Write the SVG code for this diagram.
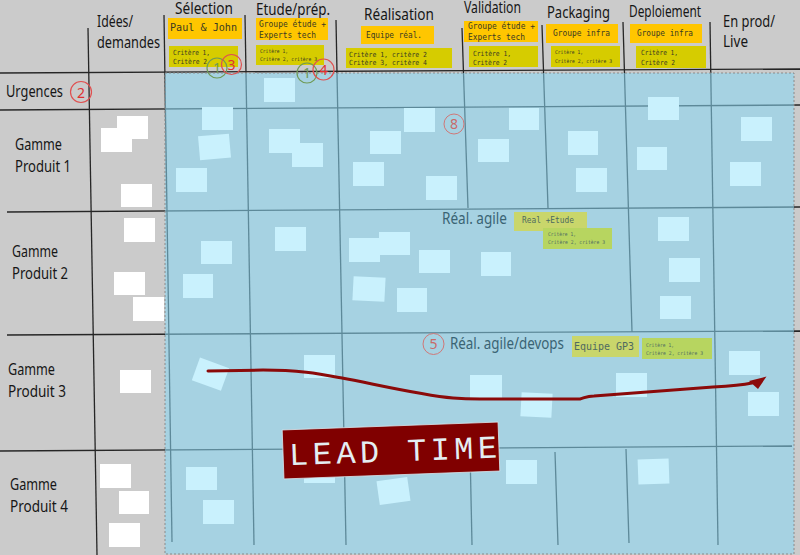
<svg xmlns="http://www.w3.org/2000/svg" width="800" height="555" viewBox="0 0 800 555">
<style>
.ln{stroke:#262626;stroke-width:1.3;fill:none}
.st{fill:#c9f1fd}
.wt{fill:#ffffff}
.hd{font-family:"Noto Sans","Open Sans",sans-serif;font-size:17px;fill:#161616}
.rw{font-family:"Noto Sans","Open Sans",sans-serif;font-size:15.5px;fill:#161616}
.ag{font-family:"Noto Sans","Open Sans",sans-serif;font-size:16.5px;fill:#3a6474}
.mo{font-family:"DejaVu Sans Mono","Liberation Mono",monospace;fill:#3a3a22}
.mg{font-family:"DejaVu Sans Mono","Liberation Mono",monospace;fill:#4f6a60}
.or{fill:#ffc600}
.cr{fill:#d6cc00}
.gy{fill:#c9d66b}
.gc{fill:#b7d560}
.rc{fill:none;stroke:#e05050;stroke-width:1.2}
.gcir{fill:none;stroke:#6f9a55;stroke-width:1.2}
.rn{font-family:"Noto Sans","Open Sans",sans-serif;font-size:14px;fill:#e03030;text-anchor:middle}
.gn{font-family:"Noto Sans","Open Sans",sans-serif;font-size:14px;fill:#6f9a55;text-anchor:middle}
</style>
<defs>
<marker id="ah" viewBox="0 0 10 10" refX="2" refY="5" markerWidth="5" markerHeight="5" orient="auto"><path d="M0,0 L10,5 L0,10 z" fill="#8b0a0a"/></marker>
</defs>
<rect width="800" height="555" fill="#cbcbcb"/>

<g id="grid">
<line class="ln" x1="0" y1="73" x2="800" y2="69"/>
<line class="ln" x1="0" y1="110" x2="800" y2="105"/>
<line class="ln" x1="7" y1="212" x2="800" y2="207"/>
<line class="ln" x1="7" y1="335" x2="800" y2="331"/>
<line class="ln" x1="0" y1="451" x2="792" y2="446"/>
<line class="ln" x1="88" y1="28" x2="97" y2="555"/>
<line class="ln" x1="164" y1="15" x2="172" y2="542"/>
<line class="ln" x1="245" y1="15" x2="254" y2="545"/>
<line class="ln" x1="336" y1="20" x2="346" y2="545"/>
<line class="ln" x1="462" y1="28" x2="468" y2="208"/>
<line class="ln" x1="542" y1="25" x2="548" y2="208"/>
<line class="ln" x1="623" y1="22" x2="632" y2="332"/>
<line class="ln" x1="710" y1="22" x2="718" y2="545"/>
<line class="ln" x1="470" y1="449" x2="472" y2="545"/>
<line class="ln" x1="555" y1="452" x2="558" y2="545"/>
<line class="ln" x1="626" y1="449" x2="629" y2="543"/>
</g>

<g id="board">
<rect x="165" y="73" width="629" height="481" fill="#8ad8f4" fill-opacity="0.56" stroke="#8a8a8a" stroke-width="1" stroke-dasharray="2,2"/>
</g>

<g id="idees-stickies">
<rect class="wt" x="117" y="116" width="31" height="23"/>
<rect class="wt" x="101" y="128" width="31" height="24"/>
<rect class="wt" x="121" y="184" width="31" height="23"/>
<rect class="wt" x="124" y="218" width="31" height="24"/>
<rect class="wt" x="114" y="272" width="31" height="23"/>
<rect class="wt" x="133" y="297" width="31" height="24"/>
<rect class="wt" x="120" y="370" width="31" height="23"/>
<rect class="wt" x="100" y="464" width="31" height="24"/>
<rect class="wt" x="119" y="491" width="30" height="23"/>
<rect class="wt" x="109" y="523" width="31" height="24"/>
</g>

<g id="board-stickies">
<rect class="st" x="264" y="78" width="31" height="24"/>
<rect class="st" x="648" y="97" width="31" height="23"/>
<rect class="st" x="202" y="107" width="31" height="23"/>
<rect class="st" x="199" y="135" width="31" height="24" transform="rotate(-5 214 147)"/>
<rect class="st" x="176" y="168" width="31" height="24"/>
<rect class="st" x="269" y="129" width="31" height="24"/>
<rect class="st" x="292" y="143" width="31" height="24"/>
<rect class="st" x="404" y="108" width="31" height="24"/>
<rect class="st" x="370" y="131" width="31" height="23"/>
<rect class="st" x="353" y="162" width="31" height="24"/>
<rect class="st" x="426" y="176" width="31" height="24"/>
<rect class="st" x="509" y="108" width="30" height="22"/>
<rect class="st" x="478" y="139" width="31" height="23"/>
<rect class="st" x="568" y="131" width="30" height="24"/>
<rect class="st" x="576" y="168" width="31" height="24"/>
<rect class="st" x="637" y="147" width="30" height="23"/>
<rect class="st" x="741" y="117" width="31" height="24"/>
<rect class="st" x="730" y="162" width="31" height="24"/>

<rect class="st" x="201" y="241" width="31" height="23"/>
<rect class="st" x="183" y="274" width="30" height="24"/>
<rect class="st" x="275" y="227" width="31" height="24"/>
<rect class="st" x="349" y="238" width="31" height="24"/>
<rect class="st" x="379" y="232" width="31" height="23"/>
<rect class="st" x="419" y="250" width="31" height="23"/>
<rect class="st" x="353" y="277" width="32" height="24" transform="rotate(3 369 289)"/>
<rect class="st" x="397" y="288" width="30" height="24"/>
<rect class="st" x="481" y="252" width="30" height="24"/>
<rect class="st" x="658" y="217" width="31" height="24"/>
<rect class="st" x="669" y="258" width="31" height="24"/>
<rect class="st" x="660" y="296" width="31" height="23"/>

<rect class="st" x="195" y="362" width="31" height="24" transform="rotate(20 210 374)"/>
<rect class="st" x="304" y="355" width="31" height="23"/>
<rect class="st" x="470" y="375" width="32" height="23"/>
<rect class="st" x="521" y="393" width="31" height="24" transform="rotate(3 536 405)"/>
<rect class="st" x="616" y="373" width="31" height="24"/>
<rect class="st" x="729" y="351" width="31" height="24"/>
<rect class="st" x="748" y="392" width="31" height="24"/>

<rect class="st" x="186" y="467" width="31" height="23"/>
<rect class="st" x="203" y="500" width="31" height="24"/>
<rect class="st" x="304" y="460" width="31" height="23"/>
<rect class="st" x="378" y="479" width="31" height="24" transform="rotate(-8 394 491)"/>
<rect class="st" x="506" y="460" width="31" height="24"/>
<rect class="st" x="638" y="459" width="31" height="25" transform="rotate(-2 653 471)"/>
</g>

<g id="column-headers">
<text class="hd" x="97" y="27" textLength="36" lengthAdjust="spacingAndGlyphs">Idées/</text>
<text class="hd" x="97" y="47.5" textLength="63" lengthAdjust="spacingAndGlyphs">demandes</text>
<text class="hd" x="175" y="13.5" textLength="58" lengthAdjust="spacingAndGlyphs">Sélection</text>
<text class="hd" x="256" y="15" textLength="74" lengthAdjust="spacingAndGlyphs">Etude/prép.</text>
<text class="hd" x="364" y="20" textLength="70" lengthAdjust="spacingAndGlyphs">Réalisation</text>
<text class="hd" x="464" y="13" textLength="57" lengthAdjust="spacingAndGlyphs">Validation</text>
<text class="hd" x="547" y="17.5" textLength="63" lengthAdjust="spacingAndGlyphs">Packaging</text>
<text class="hd" x="629" y="17" textLength="72" lengthAdjust="spacingAndGlyphs">Deploiement</text>
<text class="hd" x="723" y="27" textLength="52" lengthAdjust="spacingAndGlyphs">En prod/</text>
<text class="hd" x="723" y="46.5" textLength="25" lengthAdjust="spacingAndGlyphs">Live</text>
</g>

<g id="row-headers">
<text class="rw" x="6" y="97" textLength="57" lengthAdjust="spacingAndGlyphs">Urgences</text>
<text class="rw" x="15" y="150" textLength="47" lengthAdjust="spacingAndGlyphs">Gamme</text>
<text class="rw" x="15" y="171.5" textLength="56" lengthAdjust="spacingAndGlyphs">Produit 1</text>
<text class="rw" x="12" y="257" textLength="46" lengthAdjust="spacingAndGlyphs">Gamme</text>
<text class="rw" x="12" y="278.5" textLength="56" lengthAdjust="spacingAndGlyphs">Produit 2</text>
<text class="rw" x="8" y="375" textLength="47" lengthAdjust="spacingAndGlyphs">Gamme</text>
<text class="rw" x="8" y="397" textLength="58" lengthAdjust="spacingAndGlyphs">Produit 3</text>
<text class="rw" x="10" y="490" textLength="47" lengthAdjust="spacingAndGlyphs">Gamme</text>
<text class="rw" x="10" y="512" textLength="58" lengthAdjust="spacingAndGlyphs">Produit 4</text>
</g>

<g id="team-selection">
<rect class="or" x="168" y="18" width="74" height="21"/>
<text class="mo" x="170" y="30.5" font-size="11" textLength="67" lengthAdjust="spacingAndGlyphs">Paul &amp; John</text>
<rect class="cr" x="169" y="46" width="69" height="21"/>
<text class="mo" x="173" y="54.5" font-size="7" textLength="37" lengthAdjust="spacingAndGlyphs">Critère 1,</text>
<text class="mo" x="173" y="64" font-size="7" textLength="34" lengthAdjust="spacingAndGlyphs">Critère 2</text>
</g>
<g id="team-etude">
<rect class="or" x="256" y="18" width="72" height="22"/>
<text class="mo" x="259" y="27" font-size="8.5" textLength="67" lengthAdjust="spacingAndGlyphs">Groupe étude +</text>
<text class="mo" x="259" y="38" font-size="8.5" textLength="57" lengthAdjust="spacingAndGlyphs">Experts tech</text>
<rect class="cr" x="256" y="45" width="68" height="20"/>
<text class="mo" x="260" y="53" font-size="5.2" textLength="28" lengthAdjust="spacingAndGlyphs">Critère 1,</text>
<text class="mo" x="260" y="60.5" font-size="5.2" textLength="57" lengthAdjust="spacingAndGlyphs">Critère 2, critère 3</text>
</g>
<g id="team-realisation">
<rect class="or" x="361" y="26" width="73" height="18"/>
<text class="mo" x="366" y="37.5" font-size="8.8" textLength="56" lengthAdjust="spacingAndGlyphs">Equipe réal.</text>
<rect class="cr" x="346" y="48" width="106" height="20"/>
<text class="mo" x="349" y="56.5" font-size="7" textLength="78" lengthAdjust="spacingAndGlyphs">Critère 1, critère 2</text>
<text class="mo" x="349" y="65" font-size="7" textLength="78" lengthAdjust="spacingAndGlyphs">Critère 3, critère 4</text>
</g>
<g id="team-validation">
<rect class="or" x="464" y="21" width="74" height="21"/>
<text class="mo" x="468" y="28.5" font-size="8.5" textLength="67" lengthAdjust="spacingAndGlyphs">Groupe étude +</text>
<text class="mo" x="468" y="39.5" font-size="8.5" textLength="57" lengthAdjust="spacingAndGlyphs">Experts tech</text>
<rect class="cr" x="469" y="46" width="69" height="21"/>
<text class="mo" x="473" y="55.5" font-size="7" textLength="38" lengthAdjust="spacingAndGlyphs">Critère 1,</text>
<text class="mo" x="473" y="64.5" font-size="7" textLength="34" lengthAdjust="spacingAndGlyphs">Critère 2</text>
</g>
<g id="team-packaging">
<rect class="or" x="546" y="24" width="72" height="19"/>
<text class="mo" x="553" y="35.5" font-size="8.5" textLength="57" lengthAdjust="spacingAndGlyphs">Groupe infra</text>
<rect class="cr" x="551" y="46" width="69" height="21"/>
<text class="mo" x="555" y="54" font-size="5.2" textLength="28" lengthAdjust="spacingAndGlyphs">Critère 1,</text>
<text class="mo" x="555" y="62.5" font-size="5.2" textLength="57" lengthAdjust="spacingAndGlyphs">Critère 2, critère 3</text>
</g>
<g id="team-deploiement">
<rect class="or" x="630" y="24" width="72" height="19"/>
<text class="mo" x="637" y="35.5" font-size="8.5" textLength="56" lengthAdjust="spacingAndGlyphs">Groupe infra</text>
<rect class="cr" x="636" y="46" width="70" height="22"/>
<text class="mo" x="641" y="55" font-size="7" textLength="37" lengthAdjust="spacingAndGlyphs">Critère 1,</text>
<text class="mo" x="641" y="64.5" font-size="7" textLength="34" lengthAdjust="spacingAndGlyphs">Critère 2</text>
</g>

<g id="agile-gp2">
<text class="ag" x="442" y="224" textLength="65" lengthAdjust="spacingAndGlyphs">Réal. agile</text>
<rect class="gy" x="514" y="212" width="73" height="19"/>
<text class="mg" x="522" y="223" font-size="8.5" textLength="52" lengthAdjust="spacingAndGlyphs">Real +Etude</text>
<rect class="gc" x="543" y="228" width="69" height="21"/>
<text class="mg" x="548" y="236" font-size="5.2" textLength="28" lengthAdjust="spacingAndGlyphs">Critère 1,</text>
<text class="mg" x="548" y="243.5" font-size="5.2" textLength="57" lengthAdjust="spacingAndGlyphs">Critère 2, critère 3</text>
</g>
<g id="agile-gp3">
<text class="ag" x="450" y="349" textLength="114" lengthAdjust="spacingAndGlyphs">Réal. agile/devops</text>
<rect class="gy" x="572" y="336" width="67" height="21"/>
<text class="mg" x="574" y="349.5" font-size="9.6" textLength="60" lengthAdjust="spacingAndGlyphs">Equipe GP3</text>
<rect class="gc" x="642" y="338" width="70" height="21"/>
<text class="mg" x="646" y="346.5" font-size="5.2" textLength="28" lengthAdjust="spacingAndGlyphs">Critère 1,</text>
<text class="mg" x="646" y="354.5" font-size="5.2" textLength="57" lengthAdjust="spacingAndGlyphs">Critère 2, critère 3</text>
</g>

<g id="markers">
<circle class="gcir" cx="217" cy="68" r="10"/>
<text class="gn" x="217" y="73">1</text>
<circle class="rc" cx="231.5" cy="64.5" r="10"/>
<text class="rn" x="231.5" y="70">3</text>
<circle class="gcir" cx="307" cy="73" r="10"/>
<text class="gn" x="307" y="78">1</text>
<circle class="rc" cx="323.5" cy="69.5" r="10.5"/>
<text class="rn" x="323.5" y="75">4</text>
<circle class="rc" cx="81" cy="92" r="10.5"/>
<text class="rn" x="81" y="97.5">2</text>
<circle cx="454" cy="124" r="10" fill="none" stroke="#d07878" stroke-width="1"/>
<text class="rn" x="454" y="129" font-size="13" fill="#c86a6a" style="fill:#c86a6a">8</text>
<circle cx="433.5" cy="344" r="10.5" fill="none" stroke="#d07878" stroke-width="1"/>
<text class="rn" x="433.5" y="349" font-size="13" style="fill:#c86a6a">5</text>
</g>

<g id="connectors">
<path d="M208,371 L263,370 C300,370 320,374 342,378 C370,383 420,395 453,398 C465,399 475,399 480,399 L580,399 C585,398 586,396 594,396 L647,392 L713,387 C730,386 742,385 752,383" fill="none" stroke="#8b0a0a" stroke-width="3" stroke-linecap="round"/>
<polygon points="749,381 766.5,376.5 758,389" fill="#8b0a0a"/>
</g>

<g id="lead-time" transform="translate(391,450.5) rotate(-2.1)">
<rect x="-108" y="-24.5" width="216" height="49" fill="#800000" stroke="#d8e6ec" stroke-width="0.8"/>
<text x="-102" y="11" font-family="Liberation Mono, DejaVu Sans Mono, monospace" font-size="32" fill="#e4eef2" textLength="208" lengthAdjust="spacing">LEAD TIME</text>
</g>
</svg>
